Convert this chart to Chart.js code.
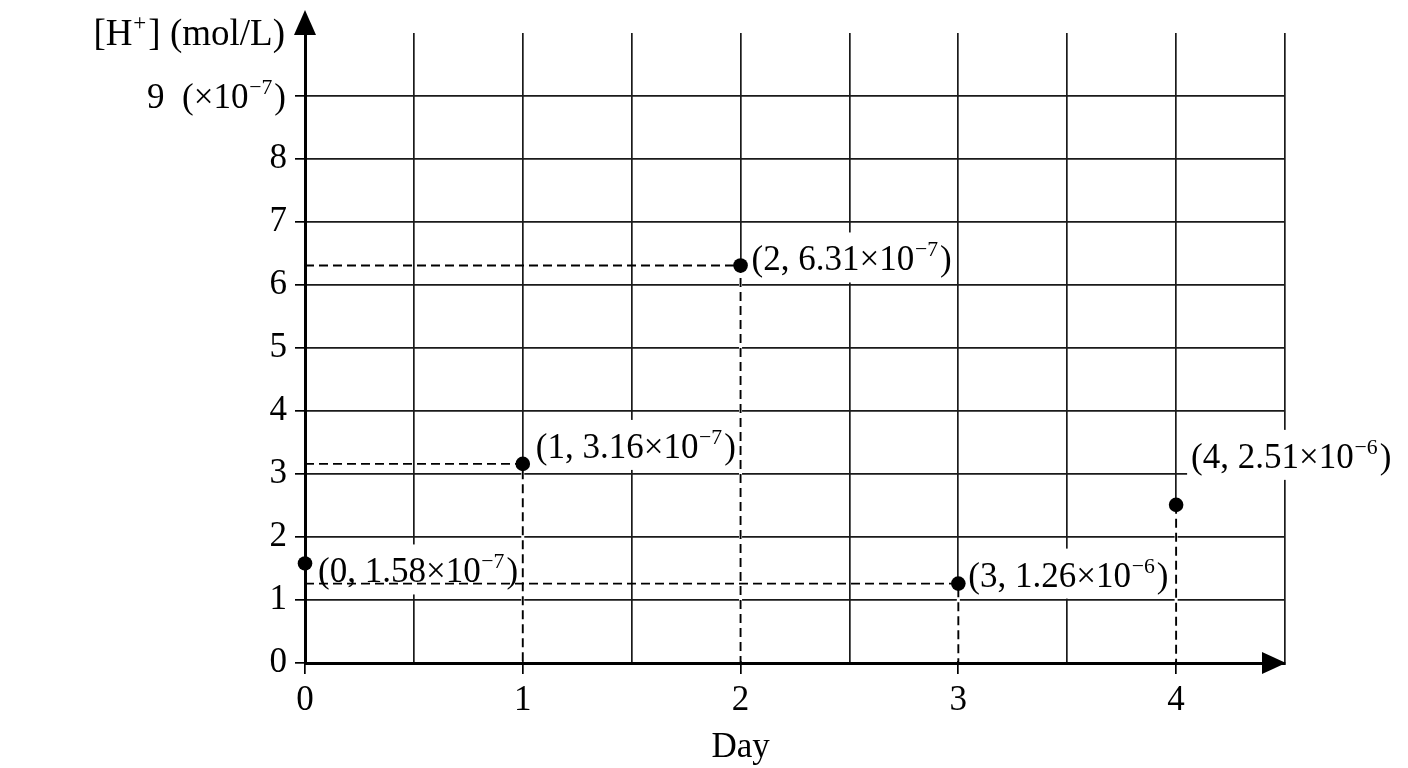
<!DOCTYPE html>
<html>
<head>
<meta charset="utf-8">
<title>[H+] by day</title>
<script src="https://cdn.jsdelivr.net/npm/chart.js@4.4.0/dist/chart.umd.min.js"></script>
<style>
  html, body { margin: 0; padding: 0; background: #fff; }
  #wrap { width: 1408px; height: 768px; }
</style>
</head>
<body>
<div id="wrap"><canvas id="myChart"></canvas></div>
<script>
// values
var days = [0, 1, 2, 3, 4];
var mantissa = [1.58, 3.16, 6.31, 1.26, 2.51];   // height as plotted (axis unit is 10^-7)
var exponent = [-7, -7, -7, -6, -6];            // exponent written in each label
var dropDown = [false, true, true, true, true];  // dashed line down to the Day axis
var dropLeft = [false, true, true, true, false]; // dashed line across to the [H+] axis
var yTicks = [0, 1, 2, 3, 4, 5, 6, 7, 8, 9];
var yTopTickExp = -7;

// label placement relative to its point (px): text left, baseline
var labelOffset = [[13, 19], [13, -6], [11, 5], [10, 3], [15, -37]];

var SERIF = '"Liberation Serif", "Times New Roman", serif';
var FS = 35;
var SUP = 0.62;

Chart.defaults.font.family = SERIF;
Chart.defaults.color = '#000';

function richParts(main, sup, tail) {
    return [{t: main}, {t: sup, sup: true}, {t: tail}];
}

function richWidth(ctx, parts, size) {
    var w = 0;
    parts.forEach(function (p) {
        ctx.font = (p.sup ? size * SUP : size) + 'px ' + SERIF;
        w += ctx.measureText(p.t).width + (p.sup ? size * 0.08 : 0);
    });
    return w;
}

function drawRich(ctx, parts, x, y, size) {
    ctx.textAlign = 'left';
    ctx.textBaseline = 'alphabetic';
    parts.forEach(function (p) {
        ctx.font = (p.sup ? size * SUP : size) + 'px ' + SERIF;
        if (p.sup) x += size * 0.02;
        ctx.fillText(p.t, x, p.sup ? y - size * 0.4 : y);
        x += ctx.measureText(p.t).width + (p.sup ? size * 0.06 : 0);
    });
}

function pointLabel(i) {
    return richParts('(' + days[i] + ', ' + mantissa[i].toFixed(2) + '×10',
        '−' + Math.abs(exponent[i]), ')');
}

// dashed guide lines, built from the points
var guides = [];
for (var i = 0; i < days.length; i++) {
    var pts = [];
    if (dropLeft[i]) pts.push({x: 0, y: mantissa[i]});
    pts.push({x: days[i], y: mantissa[i]});
    if (dropDown[i]) pts.push({x: days[i], y: 0});
    if (pts.length > 1) {
        guides.push({
            data: pts,
            showLine: true,
            borderColor: '#000',
            borderWidth: 1.9,
            borderDash: [9, 5],
            pointRadius: 0,
            pointHoverRadius: 0,
            clip: false,
            order: 1
        });
    }
}

var decor = {
    id: 'decor',
    beforeDatasetsDraw: function (chart) {
        var ctx = chart.ctx, xs = chart.scales.x, ys = chart.scales.y;
        ctx.save();
        // grid line under the dashed drop lines is not shown
        ctx.strokeStyle = '#fff';
        ctx.lineWidth = 3;
        for (var i = 0; i < days.length; i++) {
            if (!dropDown[i]) continue;
            var px = xs.getPixelForValue(days[i]);
            ctx.beginPath();
            ctx.moveTo(px, ys.getPixelForValue(mantissa[i]));
            ctx.lineTo(px, ys.getPixelForValue(0) - 2);
            ctx.stroke();
        }
        // white boxes behind the labels
        ctx.fillStyle = '#fff';
        for (i = 0; i < days.length; i++) {
            var parts = pointLabel(i);
            var w = richWidth(ctx, parts, FS);
            var lx = xs.getPixelForValue(days[i]) + labelOffset[i][0];
            var by = ys.getPixelForValue(mantissa[i]) + labelOffset[i][1];
            ctx.fillRect(lx - 4, by - 38, w + 8, 50);
        }
        ctx.restore();
    },
    afterDatasetsDraw: function (chart) {
        var ctx = chart.ctx, xs = chart.scales.x, ys = chart.scales.y;
        ctx.save();
        ctx.fillStyle = '#000';
        for (var i = 0; i < days.length; i++) {
            var lx = xs.getPixelForValue(days[i]) + labelOffset[i][0];
            var by = ys.getPixelForValue(mantissa[i]) + labelOffset[i][1];
            drawRich(ctx, pointLabel(i), lx, by, FS);
        }
        ctx.restore();
    },
    afterDraw: function (chart) {
        var ctx = chart.ctx, a = chart.chartArea, xs = chart.scales.x, ys = chart.scales.y;
        ctx.save();
        ctx.fillStyle = '#000';
        // arrow heads
        ctx.beginPath();
        ctx.moveTo(a.left, a.top - 23);
        ctx.lineTo(a.left - 11, a.top + 2);
        ctx.lineTo(a.left + 11, a.top + 2);
        ctx.closePath();
        ctx.fill();
        ctx.beginPath();
        ctx.moveTo(a.right + 1, a.bottom);
        ctx.lineTo(a.right - 23, a.bottom - 11);
        ctx.lineTo(a.right - 23, a.bottom + 11);
        ctx.closePath();
        ctx.fill();

        // top y tick with its unit
        var top = yTicks[yTicks.length - 1];
        var parts = richParts(top + '  (×10', '−' + Math.abs(yTopTickExp), ')');
        var w = richWidth(ctx, parts, FS);
        drawRich(ctx, parts, a.left - 19 - w, ys.getPixelForValue(top) + 12, FS);

        // y axis title
        parts = richParts('[H', '+', '] (mol/L)');
        w = richWidth(ctx, parts, 37);
        drawRich(ctx, parts, a.left - 20 - w, 45, 37);

        // x axis title, centred under the day range
        ctx.font = FS + 'px ' + SERIF;
        ctx.textAlign = 'center';
        ctx.textBaseline = 'alphabetic';
        ctx.fillText('Day', xs.getPixelForValue((days[0] + days[days.length - 1]) / 2), 757);
        ctx.restore();
    }
};

var ctx = document.getElementById('myChart');
window.myChart = new Chart(ctx, {
    type: 'scatter',
    data: {
        datasets: [{
            data: days.map(function (d, i) { return {x: d, y: mantissa[i]}; }),
            backgroundColor: '#000',
            borderWidth: 0,
            pointRadius: 7.3,
            pointHoverRadius: 7.3,
            clip: false,
            order: 0
        }].concat(guides)
    },
    options: {
        responsive: true,
        maintainAspectRatio: false,
        animation: false,
        events: [],
        layout: {padding: {top: 33, right: 123, left: 0, bottom: 0}},
        plugins: {legend: {display: false}, tooltip: {enabled: false}},
        scales: {
            x: {
                type: 'linear',
                min: 0,
                max: 4.5,
                afterFit: function (s) { s.height = 105; },
                ticks: {
                    stepSize: 0.5,
                    autoSkip: false,
                    maxRotation: 0,
                    padding: 6,
                    font: {size: FS},
                    callback: function (v) { return Number.isInteger(v) ? String(v) : ''; }
                },
                grid: {
                    color: '#1a1a1a',
                    lineWidth: 1.7,
                    tickLength: 11,
                    tickColor: function (c) {
                        return c.tick && Number.isInteger(c.tick.value) ? '#000' : 'rgba(0,0,0,0)';
                    }
                },
                border: {color: '#000', width: 3}
            },
            y: {
                min: 0,
                max: 10,
                afterFit: function (s) { s.width = 305; },
                afterBuildTicks: function (s) {
                    s.ticks = s.ticks.filter(function (t) { return yTicks.indexOf(t.value) >= 0; });
                },
                ticks: {
                    stepSize: 1,
                    padding: 8,
                    font: {size: FS},
                    callback: function (v) { return v === yTicks[yTicks.length - 1] ? '' : String(v); }
                },
                grid: {color: '#1a1a1a', lineWidth: 1.7, tickLength: 10, tickColor: '#000'},
                border: {color: '#000', width: 3}
            }
        }
    },
    plugins: [decor]
});
</script>
</body>
</html>
